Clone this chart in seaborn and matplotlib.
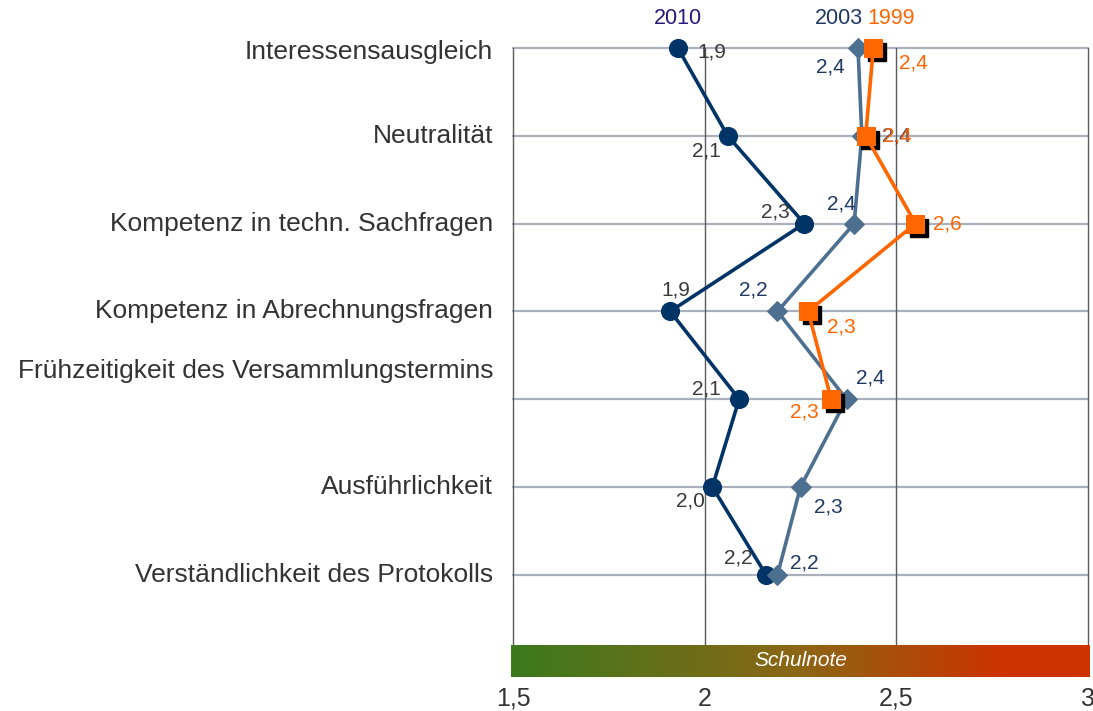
import matplotlib
matplotlib.use("Agg")
import matplotlib.pyplot as plt
import matplotlib.transforms as mtransforms
from matplotlib.colors import LinearSegmentedColormap
import numpy as np
import seaborn as sns

# Chart data
categories = [
    "Interessensausgleich",
    "Neutralität",
    "Kompetenz in techn. Sachfragen",
    "Kompetenz in Abrechnungsfragen",
    "Frühzeitigkeit des Versammlungstermins",
    "Ausführlichkeit",
    "Verständlichkeit des Protokolls",
]
years = ["2010", "2003", "1999"]
values_2010 = [1.93, 2.06, 2.26, 1.91, 2.09, 2.02, 2.16]
values_2003 = [2.40, 2.41, 2.39, 2.19, 2.37, 2.25, 2.19]
values_1999 = [2.44, 2.42, 2.55, 2.27, 2.33]
x_ticks = [1.5, 2, 2.5, 3]
x_tick_labels = ["1,5", "2", "2,5", "3"]
scale_label = "Schulnote"

# Label offsets in pixels (dx right, dy down) relative to each point
offsets_2010 = [(34, 4), (-21, 15), (-29, -12), (6, -21), (-33, -10), (-22, 14), (-28, -17)]
offsets_2003 = [(-28, 19), (35, 0), (-13, -20), (-24, -21), (24, -21), (28, 20), (27, -12)]
offsets_1999 = [(40, 15), (32, 0), (32, 0), (33, 16), (-27, 13)]


def fmt(v):
    # German decimal comma, round half up
    return f"{np.floor(v * 10 + 0.5 + 1e-9) / 10:.1f}".replace(".", ",")


sns.set_style("white")
plt.rcParams["font.family"] = ["Liberation Sans", "DejaVu Sans"]

W, H = 1093, 711
fig = plt.figure(figsize=(W / 100, H / 100), dpi=100)
ax = fig.add_axes([513 / W, 1 - 645 / H, 575 / W, (645 - 48) / H])

series = {"2010": values_2010, "2003": values_2003, "1999": values_1999}
offsets = {"2010": offsets_2010, "2003": offsets_2003, "1999": offsets_1999}
styles = {
    "2010": dict(color="#003366", marker="o", ms=13, z=4, text="#3a3a3a", legend="#231a7d", leg_dx=0),
    "2003": dict(color="#4d7090", marker="D", ms=10, z=5, text="#1f3864", legend="#1f3864", leg_dx=-19),
    "1999": dict(color="#ff6600", marker="s", ms=13, z=6, text="#ff6600", legend="#ff6600", leg_dx=18),
}

# grid
for x in x_ticks:
    ax.axvline(x, color="#5a5a5a", lw=1, zorder=1, clip_on=False)
for i in range(len(categories)):
    ax.axhline(i, color="#a9b0bb", lw=1.6, zorder=0.5, clip_on=False)

for year in years:
    vals = series[year]
    st = styles[year]
    pos = list(range(len(vals)))
    if year == "1999":
        shadow = mtransforms.offset_copy(ax.transData, fig=fig, x=4, y=-4, units="dots")
        ax.plot(vals, pos, ls="none", marker="s", ms=st["ms"], color="black",
                transform=shadow, clip_on=False, zorder=st["z"] - 0.5)
    sns.lineplot(x=vals, y=pos, orient="y", sort=False, estimator=None, ax=ax,
                 color=st["color"], marker=st["marker"], markersize=st["ms"],
                 markeredgecolor=st["color"], linewidth=2.6, clip_on=False, zorder=st["z"])
    for v, p, (dx, dy) in zip(vals, pos, offsets[year]):
        ax.annotate(fmt(v), (v, p), xytext=(dx, -dy), textcoords="offset pixels",
                    ha="center", va="center", fontsize=15, color=st["text"], zorder=8)
    ax.annotate(year, (vals[0], 0), xytext=(st["leg_dx"], 30), textcoords="offset pixels",
                ha="center", va="center", fontsize=15.5, color=st["legend"])

ax.set_xlim(1.5, 3)
ax.set_ylim(6.8, 0)
ax.set_xticks(x_ticks)
ax.set_yticks(range(len(categories)))
ax.tick_params(length=0, labelbottom=False, labelleft=False)
ax.set_xlabel("")
ax.set_ylabel("")
ax.grid(False)
for s in ax.spines.values():
    s.set_visible(False)

# category labels (Frühzeitigkeit sits above its line)
label_shift = [0.04, 0, 0, 0, -0.32, 0, 0]
for i, name in enumerate(categories):
    ax.text(-20 / 575, i + label_shift[i], name, transform=ax.get_yaxis_transform(),
            ha="right", va="center", fontsize=19, color="#333333")

# gradient "Schulnote" bar with the x tick labels
cax = fig.add_axes([511 / W, 1 - 677 / H, 579 / W, 32 / H])
cmap = LinearSegmentedColormap.from_list(
    "note", [(0, "#3b7a1d"), (0.5, "#8c6615"), (0.85, "#cc3300"), (1, "#cc3300")])
lo, hi = 1.5 - 2 / 383.3, 3 + 2 / 383.3
cax.imshow(np.linspace(0, 1, 256)[None, :], aspect="auto", cmap=cmap,
           extent=[lo, hi, 0, 1])
cax.set_xlim(lo, hi)
cax.set_ylim(0, 1)
cax.set_xticks(x_ticks, x_tick_labels)
cax.set_yticks([])
cax.tick_params(length=0, pad=7, labelsize=18, colors="#333333")
for s in cax.spines.values():
    s.set_visible(False)
cax.text(2.25, 0.5, scale_label, ha="center", va="center", fontsize=15,
         style="italic", color="white")

fig.savefig("out.png", dpi=100)
